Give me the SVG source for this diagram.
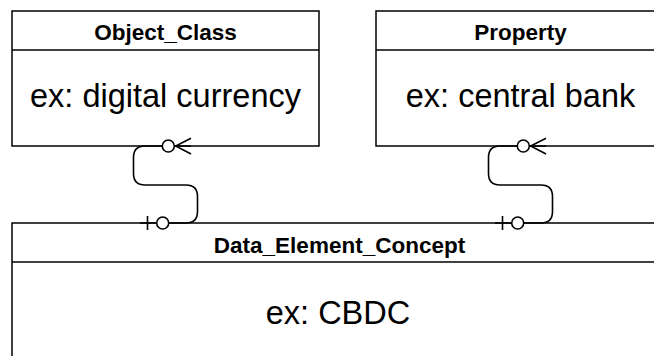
<svg xmlns="http://www.w3.org/2000/svg" width="654" height="356" viewBox="0 0 654 356">
<style>
.box{fill:#fff;stroke:#000;stroke-width:1.5}
.hdr{font-family:"Liberation Sans",Arial,sans-serif;font-weight:bold;font-size:22.5px;text-anchor:middle;fill:#000}
.body{font-family:"Liberation Sans",Arial,sans-serif;font-size:32.5px;text-anchor:middle;fill:#000}
.edge{fill:none;stroke:#000;stroke-width:1.6}
.circ{fill:#fff;stroke:#000;stroke-width:1.6}
</style>
<rect width="654" height="356" fill="#fff"/>
<g id="node-object-class">
<rect class="box" x="12" y="11" width="307" height="135"/>
<line class="box" x1="12" y1="50" x2="319" y2="50"/>
<text class="hdr" x="165.5" y="40">Object_Class</text>
<text class="body" x="165.5" y="107.3">ex: digital currency</text>
</g>
<g id="node-property">
<rect class="box" x="376" y="11" width="289" height="135"/>
<line class="box" x1="376" y1="50" x2="665" y2="50"/>
<text class="hdr" x="520.5" y="40">Property</text>
<text class="body" x="520.5" y="107.3">ex: central bank</text>
</g>
<g id="node-data-element-concept">
<rect class="box" x="12" y="223" width="654" height="150"/>
<line class="box" x1="12" y1="262" x2="666" y2="262"/>
<text class="hdr" x="339.5" y="252.7">Data_Element_Concept</text>
<text class="body" x="338" y="324">ex: CBDC</text>
</g>
<g id="connectors">
<g id="edge-1">
<path class="edge" d="M191,146 L145,146 Q133.5,146 133.5,157.5 L133.5,173.5 Q133.5,185 145,185 L186,185 Q197.5,185 197.5,196.5 L197.5,211.5 Q197.5,223 186,223 L140,223"/>
<path class="edge" d="M191,138.3 L175.7,146 L191,154"/>
<circle class="circ" cx="168.3" cy="146" r="6"/>
<line class="edge" x1="147.5" y1="216" x2="147.5" y2="230"/>
<circle class="circ" cx="162.7" cy="223" r="6"/>
</g>
<g id="edge-2">
<path class="edge" d="M546,146 L500,146 Q488.5,146 488.5,157.5 L488.5,173.5 Q488.5,185 500,185 L541,185 Q552.5,185 552.5,196.5 L552.5,211.5 Q552.5,223 541,223 L495,223"/>
<path class="edge" d="M546,138.3 L530.7,146 L546,154"/>
<circle class="circ" cx="523.3" cy="146" r="6"/>
<line class="edge" x1="502.5" y1="216" x2="502.5" y2="230"/>
<circle class="circ" cx="517.7" cy="223" r="6"/>
</g>
</g>
</svg>
